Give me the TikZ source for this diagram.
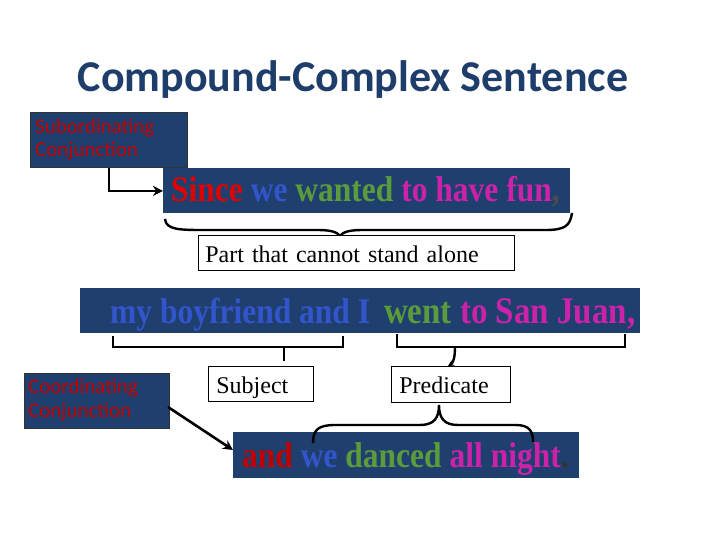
\documentclass[tikz,border=0pt]{standalone}
\usepackage{fontspec}
\setmainfont{Liberation Serif}
\newfontfamily\calibri{Carlito}
\usetikzlibrary{arrows.meta}
\definecolor{barblue}{HTML}{1F3F6F}
\definecolor{titleblue}{HTML}{1F3D6B}
\definecolor{wred}{HTML}{E00000}
\definecolor{wblue}{HTML}{3355CC}
\definecolor{wgreen}{HTML}{5B9B3B}
\definecolor{wmag}{HTML}{CC22AA}
\definecolor{lblred}{HTML}{C00000}
\newcommand{\tallsent}[1]{\scalebox{1}[1.14]{#1}}
\tikzset{
  darkbox/.style={fill=barblue, draw=black!80, line width=0.8pt, inner sep=0pt},
  lbl/.style={font=\calibri\fontsize{21}{23.5}\selectfont, text=lblred, align=left, anchor=west, inner sep=0pt},
  sent/.style={font=\bfseries\fontsize{31.5}{36}\selectfont, inner sep=0pt},
  wbox/.style={draw=black, line width=0.8pt, fill=white, inner sep=0pt, font=\fontsize{24}{28}\selectfont, text height=20pt, text depth=1pt},
  brk/.style={line width=2.6pt, black},
  arr/.style={line width=2.6pt, black, -{Stealth[length=10pt,width=10pt]}},
}
\begin{document}
\begin{tikzpicture}[x=1pt,y=-1pt]
\useasboundingbox (0,0) rectangle (720,540);
\fill[white] (0,0) rectangle (720,540);
% title
\node[font=\calibri\bfseries\fontsize{44}{50}\selectfont, text=titleblue] (title) at (353,80) {Compound-Complex Sentence};
% subordinating conjunction
\node[darkbox, minimum width=157pt, minimum height=55pt, anchor=north west] (sub) at (30,112) {};
\node[lbl] (subt) at (35,139.5) {Subordinating\\Conjunction};
% since bar
\node[darkbox, draw=none, minimum width=407pt, minimum height=45pt, anchor=north west] (since) at (163,168) {};
\node[sent, anchor=base west] (sincet) at (171,202) {\tallsent{\textcolor{wred}{Since} \textcolor{wblue}{we} \textcolor{wgreen}{wanted} \textcolor{wmag}{to have fun}\textcolor{black!70}{,}}};
\draw[arr] (sub.south) |- (since.west);
% brace under since
\coordinate (b1l) at (165,219);
\coordinate (b1r) at (572,213);
\coordinate (b1t) at (340,238);
\draw[line width=2.4pt] (b1l) .. controls (166,230) and (180,230) .. (205,230) -- (318,230)
  .. controls (333,230) and (340,233) .. (b1t)
  .. controls (340,233) and (347,230) .. (362,230) -- (545,230)
  .. controls (565,230) and (570,226) .. (b1r);
\node[wbox, minimum width=316pt, minimum height=35pt, anchor=north west, text width=302pt, align=left] (part) at (198,235) {Part that cannot stand alone};
% second bar
\node[darkbox, draw=none, minimum width=560pt, minimum height=45pt, anchor=north west] (bar2) at (80,288) {};
\node[sent, anchor=base west] (bar2t) at (110,323) {\tallsent{\textcolor{wblue}{my boyfriend and I}\hspace{14pt}{\fontsize{33}{36}\selectfont\textcolor{wgreen}{went} \textcolor{wmag}{to San Juan,}}}};
% brackets
\coordinate (s1) at (113,336);
\coordinate (s2) at (343,336);
\coordinate (p1) at (397,334);
\coordinate (p2) at (625,334);
\draw[brk] (s1) -- (113,347) -- (343,347) -- (s2);
\draw[brk] (p1) -- (397,347) -- (625,347) -- (p2);
\node[wbox, minimum width=105pt, minimum height=35pt, anchor=north west, text width=89pt, align=left] (subj) at (208,366) {Subject};
\node[wbox, minimum width=119pt, minimum height=36pt, anchor=north west, text width=103pt, align=left] (pred) at (391,366) {Predicate};
\draw[brk] (284,347) -- (284,361);
\draw[line width=2.4pt, -{Stealth[length=6pt,width=6pt]}] (455,347) .. controls (455,358) and (453,363) .. (pred.north -| 448,0);
% coordinating conjunction
\node[darkbox, minimum width=145pt, minimum height=55pt, anchor=north west] (coord) at (24,373) {};
\node[lbl] (coordt) at (28,400) {Coordinating\\Conjunction};
% bottom bar
\node[darkbox, draw=none, minimum width=346pt, minimum height=46pt, anchor=north west] (bot) at (233,432) {};
\node[sent, anchor=base west] (bott) at (242,467) {\tallsent{\textcolor{lblred}{and} \textcolor{wblue}{we} \textcolor{wgreen}{danced} \textcolor{wmag}{all night}\textcolor{black!80}{.}}};
\coordinate (cfrom) at (168,407);
\draw[arr] (cfrom) -- (bot.west |- 0,450);
% brace over bottom
\coordinate (b2l) at (313,443);
\coordinate (b2r) at (533,442);
\coordinate (b2t) at (439,405);
\draw[line width=2.4pt] (b2l) .. controls (313,430) and (318,425) .. (335,425) -- (420,425)
  .. controls (434,425) and (439,418) .. (b2t)
  .. controls (439,418) and (444,425) .. (458,425) -- (516,425)
  .. controls (530,425) and (533,432) .. (b2r);
\end{tikzpicture}
\end{document}
